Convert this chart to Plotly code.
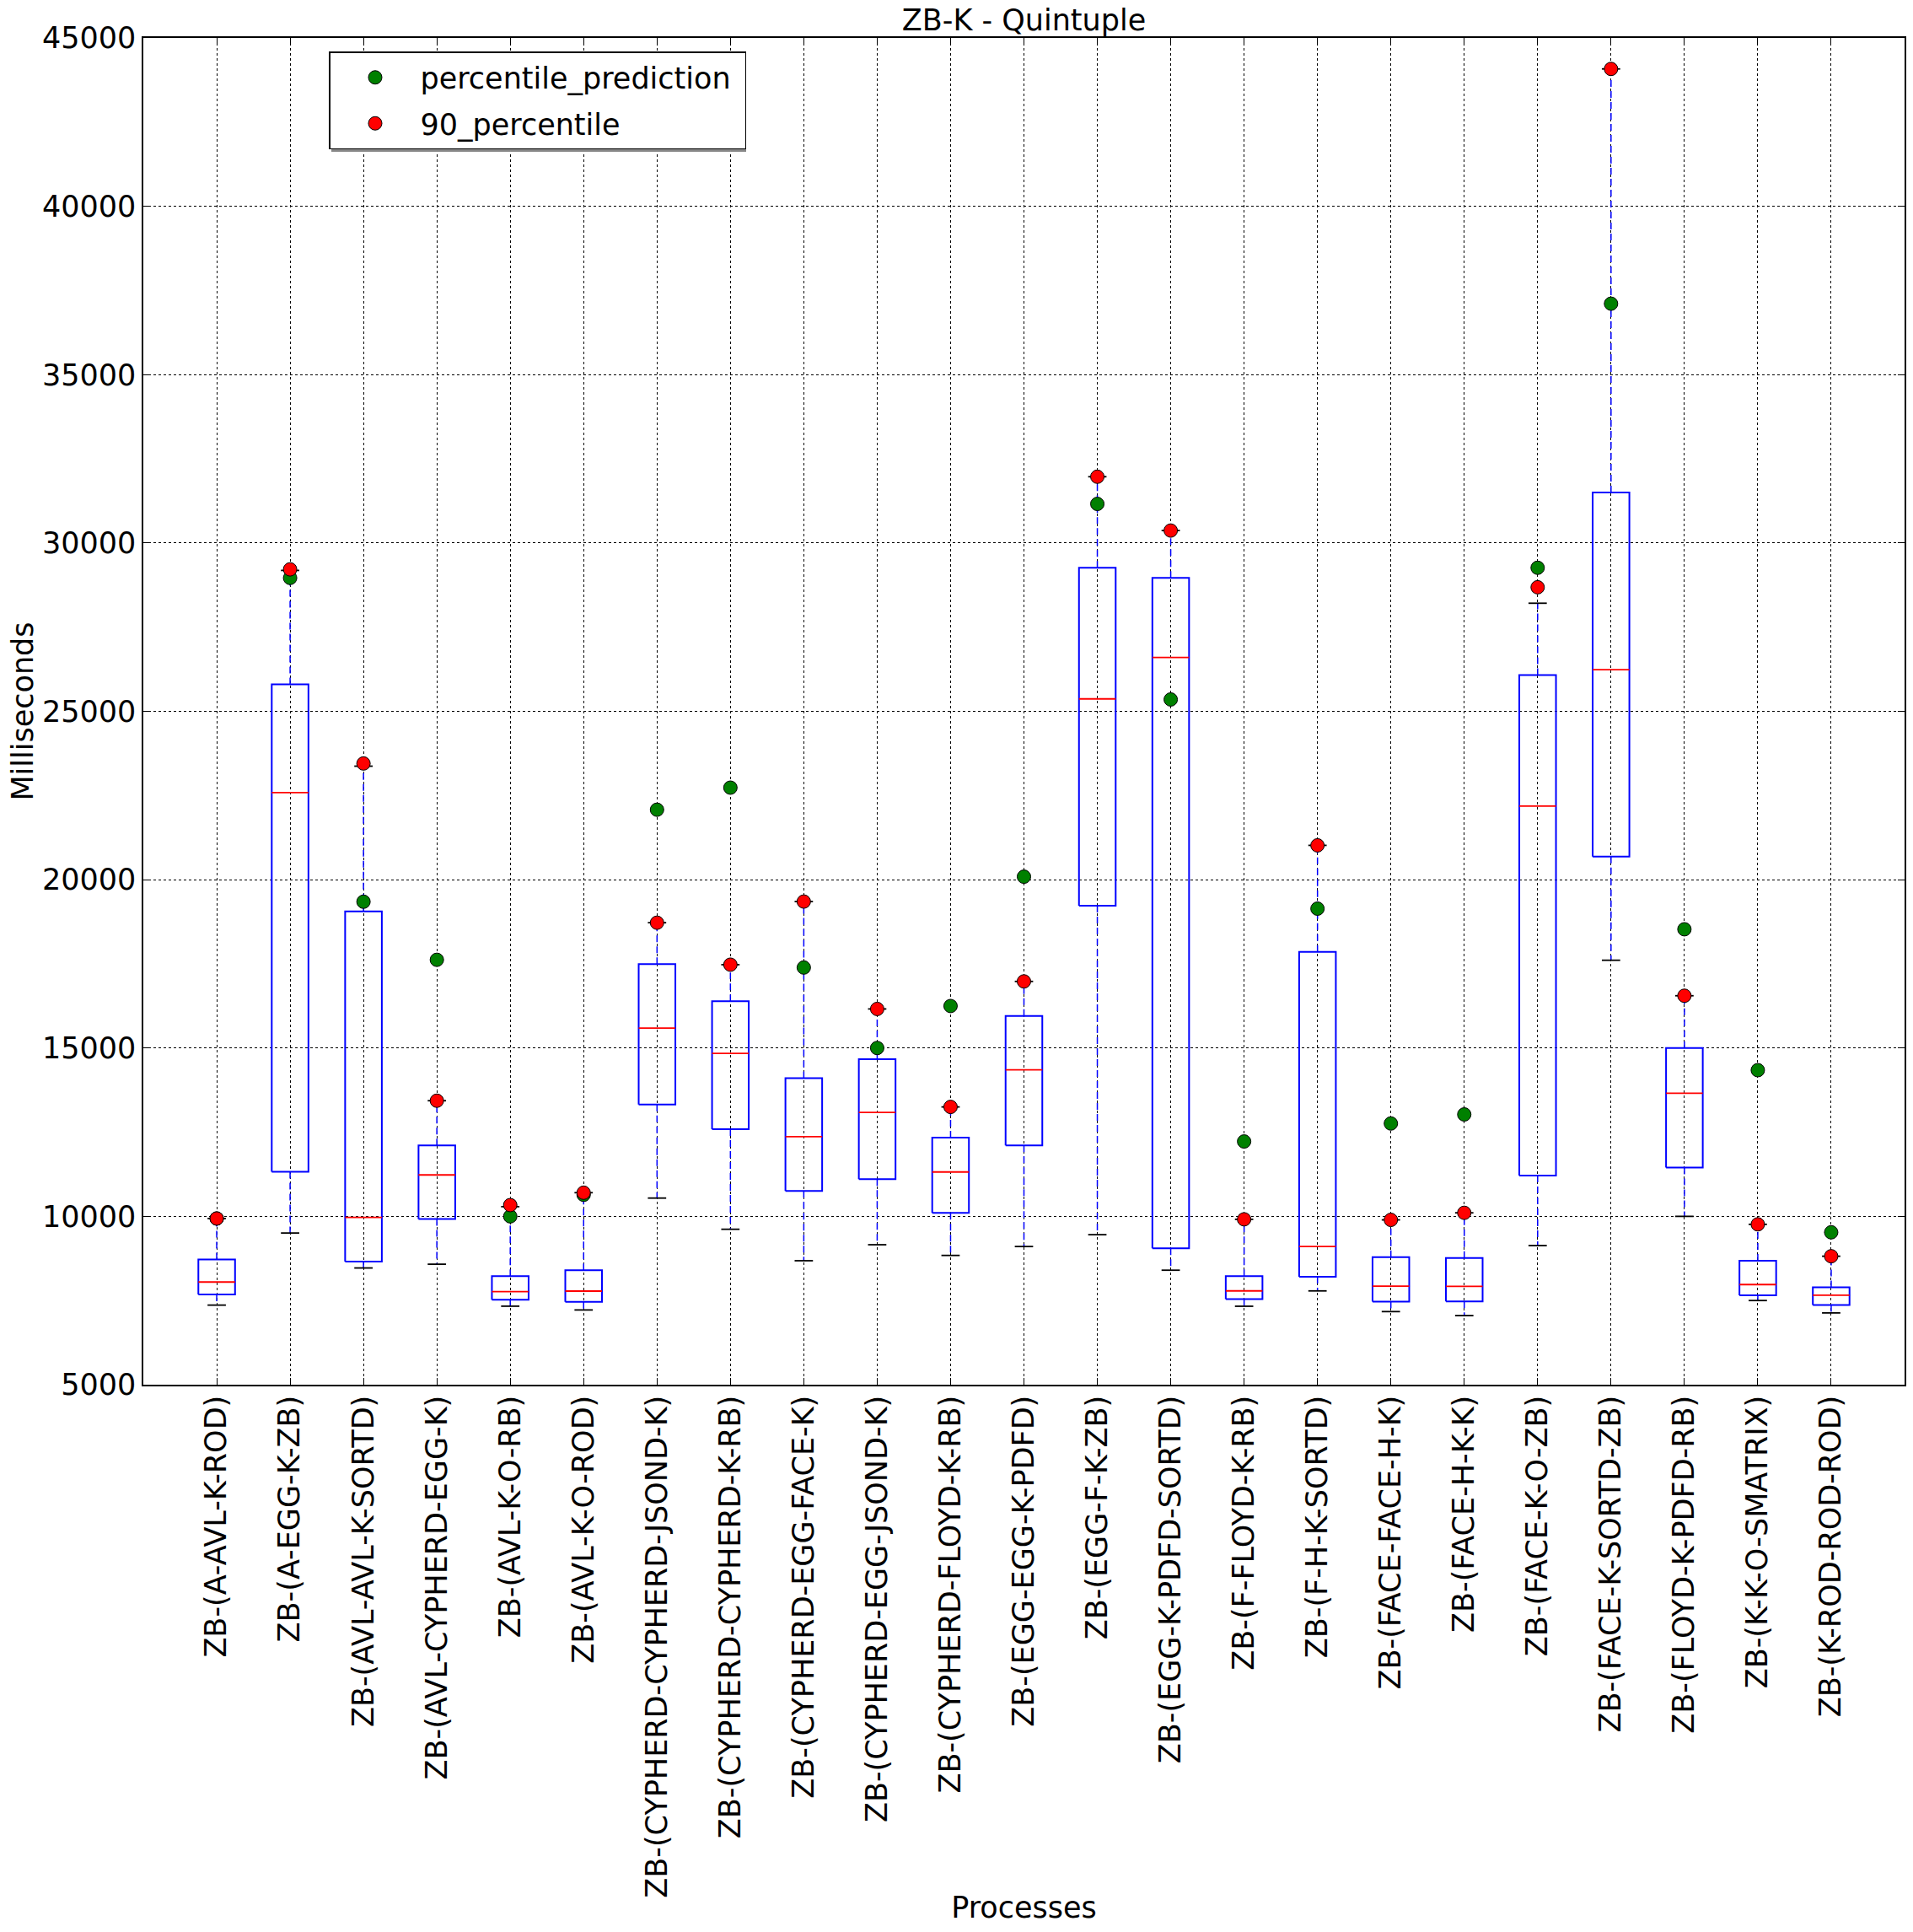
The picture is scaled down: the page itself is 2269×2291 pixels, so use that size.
import plotly.graph_objects as go

labels = ["ZB-(A-AVL-K-ROD)", "ZB-(A-EGG-K-ZB)", "ZB-(AVL-AVL-K-SORTD)", "ZB-(AVL-CYPHERD-EGG-K)",
          "ZB-(AVL-K-O-RB)", "ZB-(AVL-K-O-ROD)", "ZB-(CYPHERD-CYPHERD-JSOND-K)", "ZB-(CYPHERD-CYPHERD-K-RB)",
          "ZB-(CYPHERD-EGG-FACE-K)", "ZB-(CYPHERD-EGG-JSOND-K)", "ZB-(CYPHERD-FLOYD-K-RB)", "ZB-(EGG-EGG-K-PDFD)",
          "ZB-(EGG-F-K-ZB)", "ZB-(EGG-K-PDFD-SORTD)", "ZB-(F-FLOYD-K-RB)", "ZB-(F-H-K-SORTD)",
          "ZB-(FACE-FACE-H-K)", "ZB-(FACE-H-K-K)", "ZB-(FACE-K-O-ZB)", "ZB-(FACE-K-SORTD-ZB)",
          "ZB-(FLOYD-K-PDFD-RB)", "ZB-(K-K-O-SMATRIX)", "ZB-(K-ROD-ROD-ROD)"]

lower_whisker = [7364, 9505, 8467, 8579, 7332, 7220, 10543, 9617, 8682, 9157, 8840, 9104,
                 9455, 8401, 7330, 7786, 7171, 7053, 9132, 17607, 10000, 7500, 7132]
q1 = [7683, 11325, 8658, 9920, 7524, 7460, 13323, 12588, 10755, 11107, 10105, 12108,
      19227, 9051, 7540, 8208, 7470, 7474, 11210, 20684, 11447, 7658, 7368]
median = [8050, 22588, 9968, 11230, 7764, 7780, 15591, 14840, 12365, 13085, 11318, 14350,
          25369, 26599, 7786, 9104, 7927, 7921, 22186, 26235, 13659, 7974, 7658]
q3 = [8722, 25799, 19058, 12109, 8227, 8403, 17491, 16390, 14104, 14666, 12337, 15949,
      29262, 28963, 8225, 17856, 8788, 8763, 26078, 31500, 15000, 8684, 7895]
upper_whisker = [9936, 29185, 23371, 13435, 10288, 10703, 18722, 17475, 19350, 16160, 13250, 16978,
                 31968, 30369, 9912, 21019, 9895, 10105, 28211, 44080, 16553, 9763, 8816]
percentile_prediction = [9936, 28962, 19345, 17620, 10000, 10640, 22078, 22733, 17390, 15000, 16247, 20088,
                         31160, 25352, 12224, 19139, 12758, 13027, 29264, 37107, 18527, 14342, 9526]
percentile_90 = [9936, 29217, 23451, 13435, 10335, 10703, 18722, 17475, 19350, 16160, 13250, 16978,
                 31968, 30369, 9912, 21019, 9895, 10105, 28685, 44080, 16553, 9763, 8816]

pos = list(range(1, len(labels) + 1))
half = 0.25      # half box width
cap = 0.125      # half cap width

# build the line paths for each part of the boxplot
box_x, box_y = [], []
med_x, med_y = [], []
wh_x, wh_y = [], []
cap_x, cap_y = [], []
for i, p in enumerate(pos):
    box_x += [p - half, p + half, p + half, p - half, p - half, None]
    box_y += [q1[i], q1[i], q3[i], q3[i], q1[i], None]
    med_x += [p - half, p + half, None]
    med_y += [median[i], median[i], None]
    wh_x += [p, p, None, p, p, None]
    wh_y += [q3[i], upper_whisker[i], None, q1[i], lower_whisker[i], None]
    cap_x += [p - cap, p + cap, None, p - cap, p + cap, None]
    cap_y += [upper_whisker[i], upper_whisker[i], None, lower_whisker[i], lower_whisker[i], None]

fig = go.Figure()
fig.add_trace(go.Scatter(x=wh_x, y=wh_y, mode="lines", line=dict(color="#0000ff", width=1.5, dash="8px,5px"),
                         showlegend=False, hoverinfo="skip"))
fig.add_trace(go.Scatter(x=box_x, y=box_y, mode="lines", line=dict(color="#0000ff", width=2),
                         showlegend=False, hoverinfo="skip"))
fig.add_trace(go.Scatter(x=med_x, y=med_y, mode="lines", line=dict(color="#ff0000", width=1.8),
                         showlegend=False, hoverinfo="skip"))
fig.add_trace(go.Scatter(x=cap_x, y=cap_y, mode="lines", line=dict(color="#000000", width=1.8),
                         showlegend=False, hoverinfo="skip"))
fig.add_trace(go.Scatter(x=pos, y=percentile_prediction, mode="markers", name="percentile_prediction&nbsp;",
                         legendgroup="a",
                         marker=dict(color="#008000", size=16, line=dict(color="black", width=1))))
fig.add_trace(go.Scatter(x=pos, y=percentile_90, mode="markers", name="90_percentile",
                         legendgroup="b",
                         marker=dict(color="#ff0000", size=16, line=dict(color="black", width=1))))

W, H = 2269, 2291
fs = 35
font = "DejaVu Sans, Bitstream Vera Sans, sans-serif"

pl, pr, pt, pb = 170, 10, 45, 649
pw, ph = W - pl - pr, H - pt - pb

# legend drop shadow (pixel box of the legend converted to paper coords)
sx0, sx1, sy0, sy1 = 223, 715, 19, 135
fig.add_shape(type="rect", xref="paper", yref="paper",
              x0=sx0 / pw, x1=sx1 / pw, y0=1 - sy1 / ph, y1=1 - sy0 / ph,
              fillcolor="#888888", line=dict(width=0), layer="above")

fig.update_layout(
    width=W, height=H,
    margin=dict(l=pl, r=pr, t=pt, b=pb),
    paper_bgcolor="white", plot_bgcolor="white",
    font=dict(family=font, size=fs, color="black"),
    title=dict(text="ZB-K - Quintuple", x=0.5, xref="paper", xanchor="center",
               y=1, yref="paper", yanchor="bottom", pad=dict(b=9), font=dict(size=fs)),
    legend=dict(x=220 / pw, y=1 - 16 / ph, xanchor="left", yanchor="top", bgcolor="white",
                bordercolor="black", borderwidth=1.5, font=dict(size=fs), itemwidth=97,
                tracegroupgap=6, traceorder="grouped"),
)
fig.update_xaxes(range=[0, 24], tickvals=pos, ticktext=labels, tickangle=-90,
                 showgrid=True, gridcolor="black", griddash="dot", gridwidth=1,
                 showline=True, linecolor="black", linewidth=1.5, mirror="ticks",
                 ticks="inside", ticklen=8, tickcolor="black", ticklabelstandoff=-3,
                 zeroline=False, automargin=False,
                 title=dict(text="Processes", font=dict(size=fs), standoff=0))
fig.update_yaxes(range=[5000, 45000], dtick=5000, tickformat="d",
                 showgrid=True, gridcolor="black", griddash="dot", gridwidth=1,
                 showline=True, linecolor="black", linewidth=1.5, mirror="ticks",
                 ticks="inside", ticklen=8, tickcolor="black", ticklabelstandoff=0,
                 zeroline=False, automargin=False,
                 title=dict(text="Milliseconds", font=dict(size=fs), standoff=0))

# drop the default page margin so the figure sits at the window corner
fig.write_html("out.html", config={"displayModeBar": False},
               post_script="document.body.style.margin = '0';")
